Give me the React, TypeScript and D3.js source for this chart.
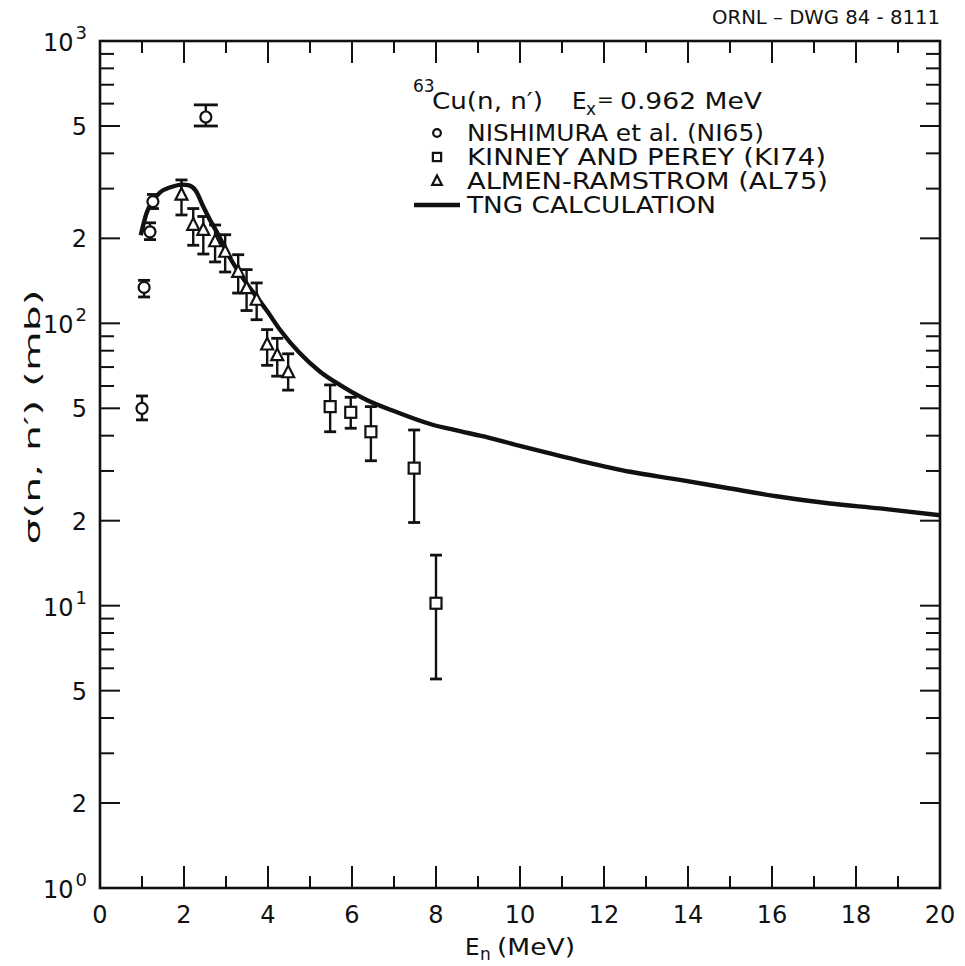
import React from "react";
import * as d3 from "d3";

// ---- data ----------------------------------------------------------------
// NISHIMURA et al. (NI65)
const niEnergy = [1.0, 1.05, 1.19, 1.26, 2.52];
const niSigma = [50, 134, 211, 270, 538];
const niUpper = [55.3, 142, 227, 286, 594];
const niLower = [45.5, 124, 198, 255, 500];

// KINNEY AND PEREY (KI74)
const kiEnergy = [5.48, 5.97, 6.45, 7.48, 8.0];
const kiSigma = [50.7, 48.4, 41.3, 30.7, 10.2];
const kiUpper = [60.5, 54.7, 50.7, 41.9, 15.1];
const kiLower = [41.3, 42.5, 32.6, 19.7, 5.5];

// ALMEN-RAMSTROM (AL75)
const alEnergy = [1.94, 2.22, 2.46, 2.74, 2.98, 3.29, 3.49, 3.73, 3.98, 4.22, 4.48];
const alSigma = [285, 223, 214, 195, 179, 152, 133, 121, 84, 77, 67];
const alUpper = [322, 255, 239, 223, 206, 175, 155, 139, 95, 88.5, 78];
const alLower = [242, 189, 176, 165, 152, 128, 111, 103, 71, 65, 58];

// TNG calculation
const tngEnergy = [
  0.97, 1.11, 1.27, 1.42, 1.7, 1.95, 2.12, 2.28, 2.46, 2.62, 2.78, 3.1, 3.41,
  3.73, 3.97, 4.29, 4.76, 5.24, 5.71, 6.35, 7.06, 7.86, 8.57, 9.05, 10.0,
  11.43, 12.62, 13.81, 15.0, 16.19, 17.38, 18.57, 20.0,
];
const tngSigma = [
  205, 246, 272, 290, 304, 310, 308, 295, 259, 232, 211, 170, 144, 124, 111,
  94.7, 78.3, 67.4, 60.5, 53.5, 48.5, 44.0, 41.5, 40.0, 36.8, 32.6, 29.8, 27.9,
  26.0, 24.3, 23.0, 22.1, 20.9,
];

const xTickValues = [0, 2, 4, 6, 8, 10, 12, 14, 16, 18, 20];
const yDecadeExponents = [0, 1, 2, 3];
const yMantissaLabels = [2, 5];

const titleNuclide = "63";
const titleReaction = "Cu(n, n\u2032)";
const titleLevel = "0.962 MeV";
const legendLabels = [
  "NISHIMURA et al. (NI65)",
  "KINNEY AND PEREY (KI74)",
  "ALMEN-RAMSTROM (AL75)",
  "TNG CALCULATION",
];
const drawingNumber = "ORNL \u2013 DWG 84 - 8111";

// ---- layout --------------------------------------------------------------
const W = 965;
const H = 966;
const X0 = 100;
const X1 = 940;
const Y0 = 888;
const Y1 = 41;
const FONT = "'DejaVu Sans', 'Liberation Sans', sans-serif";
const INK = "#111";

const x = d3.scaleLinear().domain([0, 20]).range([X0, X1]);
const y = d3.scaleLog().domain([1, 1000]).range([Y0, Y1]);

type Series = { e: number[]; s: number[]; hi: number[]; lo: number[] };
const ni: Series = { e: niEnergy, s: niSigma, hi: niUpper, lo: niLower };
const ki: Series = { e: kiEnergy, s: kiSigma, hi: kiUpper, lo: kiLower };
const al: Series = { e: alEnergy, s: alSigma, hi: alUpper, lo: alLower };

function Marker({ kind, cx, cy, k = 1 }: { kind: string; cx: number; cy: number; k?: number }) {
  const common = { fill: "#fff", stroke: INK, strokeWidth: 2.2 };
  if (kind === "circle") return <circle cx={cx} cy={cy} r={5.5 * k} {...common} />;
  if (kind === "square") {
    const h = 5.5 * k;
    return <rect x={cx - h} y={cy - h} width={2 * h} height={2 * h} {...common} />;
  }
  const a = 6 * k;
  return (
    <path
      d={`M${cx},${cy - a * 1.15} L${cx + a},${cy + a * 0.8} L${cx - a},${cy + a * 0.8} Z`}
      {...common}
    />
  );
}

function ErrorBars({ data, capHalf }: { data: Series; capHalf: (v: number) => number }) {
  return (
    <g stroke={INK} strokeWidth={2.4}>
      {data.e.map((e, i) => {
        const cx = x(e);
        const c = capHalf(data.s[i]);
        return (
          <g key={i}>
            <line x1={cx} x2={cx} y1={y(data.hi[i])} y2={y(data.lo[i])} />
            <line x1={cx - c} x2={cx + c} y1={y(data.hi[i])} y2={y(data.hi[i])} strokeWidth={2.8} />
            <line x1={cx - c} x2={cx + c} y1={y(data.lo[i])} y2={y(data.lo[i])} strokeWidth={2.8} />
          </g>
        );
      })}
    </g>
  );
}

function Points({ data, kind }: { data: Series; kind: string }) {
  return (
    <g>
      {data.e.map((e, i) => (
        <Marker key={i} kind={kind} cx={x(e)} cy={y(data.s[i])} />
      ))}
    </g>
  );
}

export default function App() {
  const line = d3
    .line<number>()
    .x((_, i) => x(tngEnergy[i]))
    .y((d) => y(d))
    .curve(d3.curveMonotoneX);

  // log-axis ticks: every integer mantissa in each decade
  const yTicks: { v: number; major: boolean }[] = [];
  for (let k = 0; k < 3; k++) {
    for (let m = 1; m <= 9; m++) {
      if (k === 0 && m === 1) continue;
      yTicks.push({ v: m * Math.pow(10, k), major: m === 1 || m === 2 || m === 5 });
    }
  }
  const xTicks: { v: number; major: boolean }[] = [];
  for (let e = 1; e < 20; e++) xTicks.push({ v: e, major: e % 2 === 0 });

  const fit = { lengthAdjust: "spacingAndGlyphs" as const };

  return (
    <svg
      width={W}
      height={H}
      style={{ position: "absolute", left: 0, top: 0, display: "block", background: "#fff" }}
      fontFamily={FONT}
    >
      <rect width={W} height={H} fill="#fff" />

      {/* frame */}
      <rect x={X0} y={Y1} width={X1 - X0} height={Y0 - Y1} fill="none" stroke={INK} strokeWidth={2.6} />

      {/* ticks on all four sides, pointing inward */}
      <g stroke={INK} strokeWidth={2}>
        {yTicks.map((t, i) => {
          const len = t.major ? 20 : 14;
          const yy = y(t.v);
          return (
            <g key={i}>
              <line x1={X0} x2={X0 + len} y1={yy} y2={yy} />
              <line x1={X1} x2={X1 - len} y1={yy} y2={yy} />
            </g>
          );
        })}
        {xTicks.map((t, i) => {
          const len = t.major ? 22 : 12;
          const xx = x(t.v);
          return (
            <g key={i}>
              <line x1={xx} x2={xx} y1={Y0} y2={Y0 - len} />
              <line x1={xx} x2={xx} y1={Y1} y2={Y1 + len} />
            </g>
          );
        })}
      </g>

      {/* x tick labels */}
      <g fontSize={24} fill={INK} textAnchor="middle">
        {xTickValues.map((v) => (
          <text key={v} x={x(v)} y={Y0 + 35}>
            {v}
          </text>
        ))}
      </g>

      {/* y tick labels */}
      <g fontSize={24} fill={INK} textAnchor="end">
        {yDecadeExponents.map((p) => (
          <text key={"d" + p} x={87} y={y(Math.pow(10, p)) + 10}>
            <tspan>10</tspan>
            <tspan dx={2} dy={-12} fontSize={18}>
              {p}
            </tspan>
          </text>
        ))}
        {[0, 1, 2].flatMap((k) =>
          yMantissaLabels.map((m) => (
            <text key={k + "-" + m} x={87} y={y(m * Math.pow(10, k)) + 9}>
              {m}
            </text>
          ))
        )}
      </g>

      {/* axis titles */}
      <g fill={INK}>
        <text x={465} y={955} fontSize={23}>E</text>
        <text x={480} y={960} fontSize={17}>n</text>
        <text x={497} y={955} fontSize={23} textLength={78} {...fit}>(MeV)</text>
      </g>
      <text
        transform={`translate(40, 417) rotate(-90)`}
        textAnchor="middle"
        fontSize={21}
        fill={INK}
        textLength={255}
        {...fit}
      >
        σ(n, n′) (mb)
      </text>

      <text x={712} y={24} fontSize={19} fill={INK} textLength={228} {...fit}>
        {drawingNumber}
      </text>

      {/* calculation */}
      <path d={line(tngSigma) || ""} fill="none" stroke={INK} strokeWidth={4.4} strokeLinejoin="round" />

      {/* measurements */}
      <ErrorBars data={ni} capHalf={(v) => (v > 400 ? 12 : 6)} />
      <ErrorBars data={al} capHalf={() => 6} />
      <ErrorBars data={ki} capHalf={() => 6} />
      <Points data={ni} kind="circle" />
      <Points data={al} kind="triangle" />
      <Points data={ki} kind="square" />

      {/* legend */}
      <g fill={INK}>
        <text x={413} y={92} fontSize={17}>{titleNuclide}</text>
        <text x={432} y={109} fontSize={23} textLength={111} {...fit}>{titleReaction}</text>
        <text x={572} y={109} fontSize={23}>E</text>
        <text x={586} y={115} fontSize={17}>x</text>
        <text x={597} y={106} fontSize={20}>=</text>
        <text x={620} y={109} fontSize={23} textLength={142} {...fit}>{titleLevel}</text>
        {legendLabels.map((label, i) => {
          const cy = 133 + i * 24;
          const widths = [297, 359, 361, 249];
          return (
            <g key={label}>
              {i === 0 && <Marker kind="circle" cx={437} cy={cy} k={0.7} />}
              {i === 1 && <Marker kind="square" cx={437} cy={cy} k={0.75} />}
              {i === 2 && <Marker kind="triangle" cx={437} cy={cy} k={0.8} />}
              {i === 3 && (
                <line x1={414} x2={460} y1={cy} y2={cy} stroke={INK} strokeWidth={4.4} />
              )}
              <text x={467} y={cy + 8} fontSize={23} textLength={widths[i]} {...fit}>
                {label}
              </text>
            </g>
          );
        })}
      </g>
    </svg>
  );
}
